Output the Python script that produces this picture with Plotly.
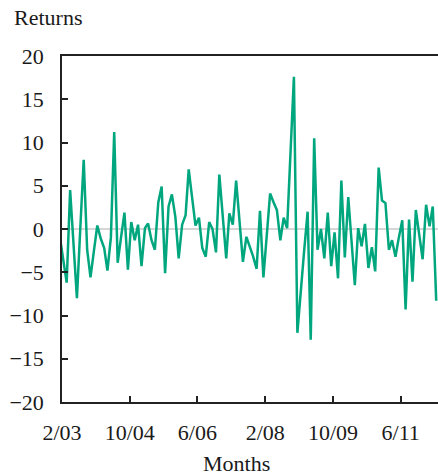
import plotly.graph_objects as go
import pandas as pd

# monthly returns, Jan 2003 .. Apr 2012 (plotted mid-month)
start_month = "2003-01"
returns = [
    -1.1,
    -3.7, -6.2, 4.5, -2.0, -8.0, 0.0, 8.0, -2.4, -5.6, -2.5,
    0.4, -1.1, -2.2, -4.8, -1.0, 11.2, -3.9, -1.0, 1.9, -4.7,
    0.8, -1.3, 0.5, -4.3, 0.1, 0.65, -1.3, -2.4, 3.1, 4.9,
    -5.1, 2.6, 4.0, 1.4, -3.4, 0.5, 1.6, 6.9, 3.5, 0.4,
    1.3, -2.2, -3.2, 0.8, 0.0, -2.7, 6.3, 1.5, -3.4, 1.8,
    0.5, 5.6, 1.0, -3.8, -0.9, -2.0, -3.2, -4.6, 2.1, -5.6,
    -0.5, 4.1, 3.1, 2.2, -1.3, 1.3, 0.1, 9.0, 17.6, -12.0,
    -7.0, -2.5, 2.0, -12.8, 10.5, -2.4, 0.0, -3.4, 1.9, -4.3,
    -0.4, -5.7, 5.6, -3.3, 3.7, -1.5, -6.5, 0.1, -2.0, 0.6,
    -4.5, -2.1, -4.9, 7.1, 3.3, 3.0, -2.4, -1.3, -3.2, -1.0,
    1.0, -9.3, 1.1, -6.1, 2.2, -0.7, -3.5, 2.8, 0.3, 2.6,
    -8.3,
]
tick_dates = ["2003-02-01", "2004-10-01", "2006-06-01", "2008-02-01", "2009-10-01", "2011-06-01"]
tick_labels = ["2/03", "10/04", "6/06", "2/08", "10/09", "6/11"]
y_ticks = [-20, -15, -10, -5, 0, 5, 10, 15, 20]
x_range = ["2003-02-01", "2012-05-01"]

months = pd.date_range(start_month, periods=len(returns), freq="MS") + pd.Timedelta(days=14)

FONT = "Liberation Serif"
fig = go.Figure()
fig.add_trace(go.Scatter(x=months, y=returns, mode="lines",
                         line=dict(color="#00a67e", width=2.5), hoverinfo="skip"))

fig.update_layout(
    width=438, height=476,
    margin=dict(l=62, r=0, t=56, b=74, autoexpand=False),
    paper_bgcolor="white", plot_bgcolor="white",
    showlegend=False,
    font=dict(family=FONT, size=22, color="#1a1a1a"),
)
fig.update_xaxes(
    range=x_range, tickmode="array", tickvals=tick_dates, ticktext=tick_labels,
    ticks="inside", ticklen=6, tickwidth=1.5, tickcolor="#222",
    showline=True, linecolor="#222", linewidth=1.5, mirror=True,
    showgrid=False, zeroline=False, ticklabelstandoff=10, automargin=False,
)
fig.update_yaxes(
    range=[-20, 20], tickmode="array", tickvals=y_ticks,
    ticks="inside", ticklen=6, tickwidth=1.5, tickcolor="#222",
    showline=True, linecolor="#222", linewidth=1.5, mirror=False,
    showgrid=False, zeroline=True, zerolinecolor="#d6d6d6", zerolinewidth=2,
    ticklabelstandoff=12, automargin=False,
)
fig.add_annotation(text="Returns", xref="paper", yref="paper", x=-0.133, y=1.112,
                   xanchor="left", yanchor="middle", showarrow=False,
                   font=dict(family=FONT, size=22, color="#1a1a1a"))
fig.add_annotation(text="Months", xref="paper", yref="paper", x=0.465, y=-0.179,
                   xanchor="center", yanchor="middle", showarrow=False,
                   font=dict(family=FONT, size=22, color="#1a1a1a"))
fig.write_html(
    "out.html",
    config={"displayModeBar": False},
    post_script="document.body.style.margin='0';document.body.style.overflow='hidden';",
)
